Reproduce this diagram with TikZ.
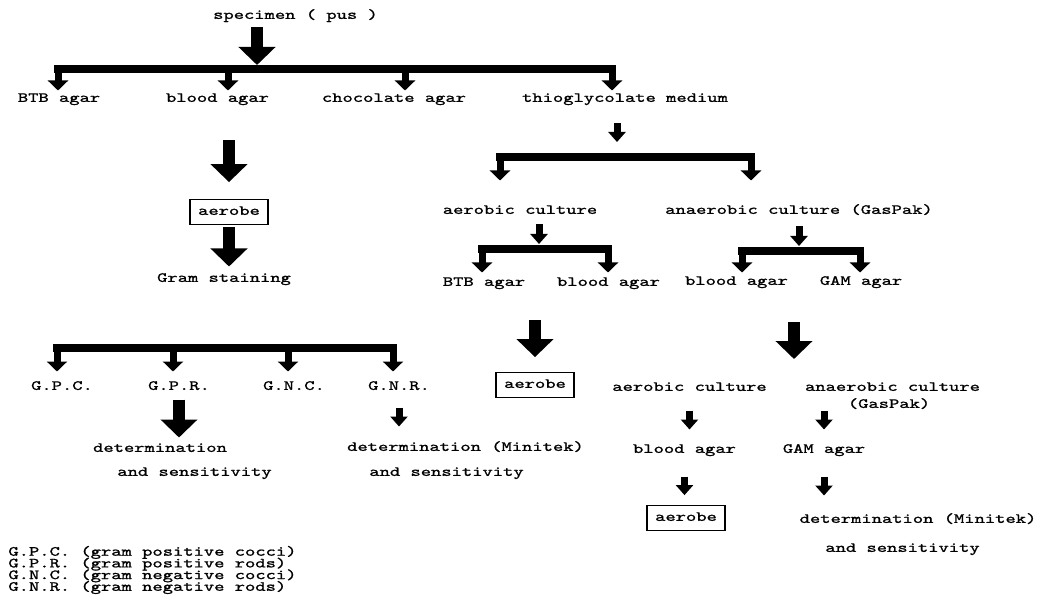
\documentclass[tikz,border=0pt]{standalone}
\usepackage{fontspec}
\usepackage{graphicx}
\newfontfamily\typewriter{lmmono10-regular.otf}[FakeStretch=1.4,FakeBold=1.2]
\newcommand\legendfont{\typewriter\fontsize{7}{5.85}\selectfont\lineskiplimit=-20pt\relax}
\usetikzlibrary{arrows.meta}

\begin{document}
\begin{tikzpicture}[x=0.5pt, y=-0.5pt,
        lbl/.style={font=\typewriter\fontsize{7}{8.4}\selectfont, inner sep=0pt, text height=4.5pt, text depth=1.6pt},
        box/.style={lbl, draw, line width=0.9pt, inner xsep=4.25pt, inner ysep=3.2pt},
        bigarrow/.style={line width=6pt, -{Triangle[width=18pt, length=9pt]}},
        smallarrow/.style={line width=3.5pt, -{Triangle[width=8.5pt, length=5pt]}},
        leg/.style={line width=3.5pt, -{Triangle[width=10pt, length=5pt]}},
        bar/.style={line width=4pt, line cap=rect},
        ]
        \useasboundingbox (0,0) rectangle (1037,614);

        % Nodes
        \node[lbl] (spec) at (295.5,16) {specimen ( pus )};
        \node[lbl] (btb1) at (59,99) {BTB agar};
        \node[lbl] (blood1) at (217.5,99) {blood agar};
        \node[lbl] (choc) at (394,99) {chocolate agar};
        \node[lbl] (thio) at (625,99) {thioglycolate medium};

        \node[box] (ab1) at (229,212) {aerobe};
        \node[lbl] (gram) at (224,279) {Gram staining};

        \node[lbl] (gpc) at (62,387) {G.P.C.};
        \node[lbl] (gpr) at (179,387) {G.P.R.};
        \node[lbl] (gnc) at (294,387) {G.N.C.};
        \node[lbl] (gnr) at (399,387) {G.N.R.};
        \node[lbl] (det1) at (160,449) {determination};
        \node[lbl] (sens1) at (194.5,473) {and sensitivity};
        \node[lbl] (det2) at (465.5,448) {determination (Minitek)};
        \node[lbl] (sens2) at (446.5,473) {and sensitivity};

        % Nodes, thioglycolate side
        \node[lbl] (aer1) at (520,211) {aerobic culture};
        \node[lbl] (ana1) at (799,211) {anaerobic culture (GasPak)};
        \node[lbl] (btb2) at (484,283) {BTB agar};
        \node[lbl] (blood2) at (608.5,283) {blood agar};
        \node[lbl] (blood3) at (736.5,282) {blood agar};
        \node[lbl] (gam) at (861,282) {GAM agar};
        \node[box] (ab2) at (535,385) {aerobe};

        \node[lbl] (aer2) at (689.5,388) {aerobic culture};
        \node[lbl] (ana2) at (892.5,388) {anaerobic culture};
        \node[lbl] (gaspak) at (889,405) {(GasPak)};
        \node[lbl] (blood4) at (684.5,450) {blood agar};
        \node[lbl] (gam2) at (824,450) {GAM agar};
        \node[box] (ab3) at (686,518) {aerobe};
        \node[lbl] (det3) at (918,520) {determination (Minitek)};
        \node[lbl] (sens3) at (902.5,549) {and sensitivity};

        % Legend
        \node[font=\legendfont, inner sep=0pt, align=left, anchor=west] (legend) at (8,570)
            {G.P.C. (gram positive cocci)\\G.P.R. (gram positive rods)\\G.N.C. (gram negative cocci)\\G.N.R. (gram negative rods)};

        % Bars
        \coordinate (j1) at (257,65);
        \coordinate (b1a) at (58,69);
        \coordinate (b1b) at (228,69);
        \coordinate (b1c) at (405,69);
        \coordinate (b1d) at (612,69);
        \coordinate (b2a) at (57,348);
        \coordinate (b2b) at (173,348);
        \coordinate (b2c) at (288,348);
        \coordinate (b2d) at (393,348);
        \coordinate (j3) at (617,152);
        \coordinate (b3a) at (500,157);
        \coordinate (b3b) at (751,157);
        \coordinate (j4) at (539,244);
        \coordinate (b4a) at (482,249);
        \coordinate (b4b) at (608,249);
        \coordinate (j5) at (799,246);
        \coordinate (b5a) at (742,251);
        \coordinate (b5b) at (860,251);
        \coordinate (j6) at (794,359);

        % Specimen goes to the four media
        \draw[bigarrow, shorten <=2.5pt] (spec.south -| j1) -- (j1);
        \draw[bar] (b1a) -- (b1d);
        \draw[leg, shorten >=1pt] (b1a) -- (b1a |- btb1.north);
        \draw[leg, shorten >=1pt] (b1b) -- (b1b |- blood1.north);
        \draw[leg, shorten >=1pt] (b1c) -- (b1c |- choc.north);
        \draw[leg, shorten >=1pt] (b1d) -- (b1d |- thio.north);

        % Blood agar
        \draw[bigarrow, shorten <=17.5pt, shorten >=8.25pt] (blood1.south -| ab1) -- (ab1);
        \draw[bigarrow, shorten <=0.75pt, shorten >=3pt] (ab1) -- (ab1 |- gram.north);

        % Gram staining
        \draw[bar] (b2a) -- (b2d);
        \draw[leg, shorten >=4.5pt] (b2a) -- (b2a |- gpc.north);
        \draw[leg, shorten >=4.5pt] (b2b) -- (b2b |- gpr.north);
        \draw[leg, shorten >=4.5pt] (b2c) -- (b2c |- gnc.north);
        \draw[leg, shorten >=4.5pt] (b2d) -- (b2d |- gnr.north);
        \draw[bigarrow, shorten <=3pt, shorten >=2.5pt] (gpr) -- (gpr |- det1.north);
        \draw[smallarrow, shorten <=7pt, shorten >=7.5pt] (gnr) -- (gnr |- det2.north);

        % Thioglycolate medium
        \draw[smallarrow, shorten <=9pt, shorten >=5pt] (thio.south -| j3) -- (j3);
        \draw[bar] (b3a) -- (b3b);
        \draw[leg, shorten >=12pt] (b3a) -- (b3a |- aer1.north);
        \draw[leg, shorten >=12pt] (b3b) -- (b3b |- ana1.north);

        \draw[smallarrow, shorten <=3.5pt] (aer1.south -| j4) -- (j4);
        \draw[bar] (b4a) -- (b4b);
        \draw[leg, shorten >=2pt] (b4a) -- (b4a |- btb2.north);
        \draw[leg, shorten >=2pt] (b4b) -- (b4b |- blood2.north);

        \draw[smallarrow, shorten <=4.5pt] (ana1.south -| j5) -- (j5);
        \draw[bar] (b5a) -- (b5b);
        \draw[leg, shorten >=1.5pt] (b5a) -- (b5a |- blood3.north);
        \draw[leg, shorten >=1.5pt] (b5b) -- (b5b |- gam.north);

        % Aerobic and anaerobic subcultures
        \draw[bigarrow, shorten <=15.5pt, shorten >=7.25pt] (ab2 |- btb2.south) -- (ab2);
        \draw[bigarrow, shorten <=17pt] (gam.south -| j6) -- (j6);

        \draw[smallarrow, shorten <=8pt, shorten >=7pt] (aer2) -- (aer2 |- blood4.north);
        \draw[smallarrow, shorten <=8pt, shorten >=7pt] (ana2.south -| gam2) -- (gam2);
        \draw[smallarrow, shorten <=10pt, shorten >=4.75pt] (blood4) -- (blood4 |- ab3.north);
        \draw[smallarrow, shorten <=10pt, shorten >=9pt] (gam2) -- (gam2 |- det3.north);

\end{tikzpicture}
\end{document}
